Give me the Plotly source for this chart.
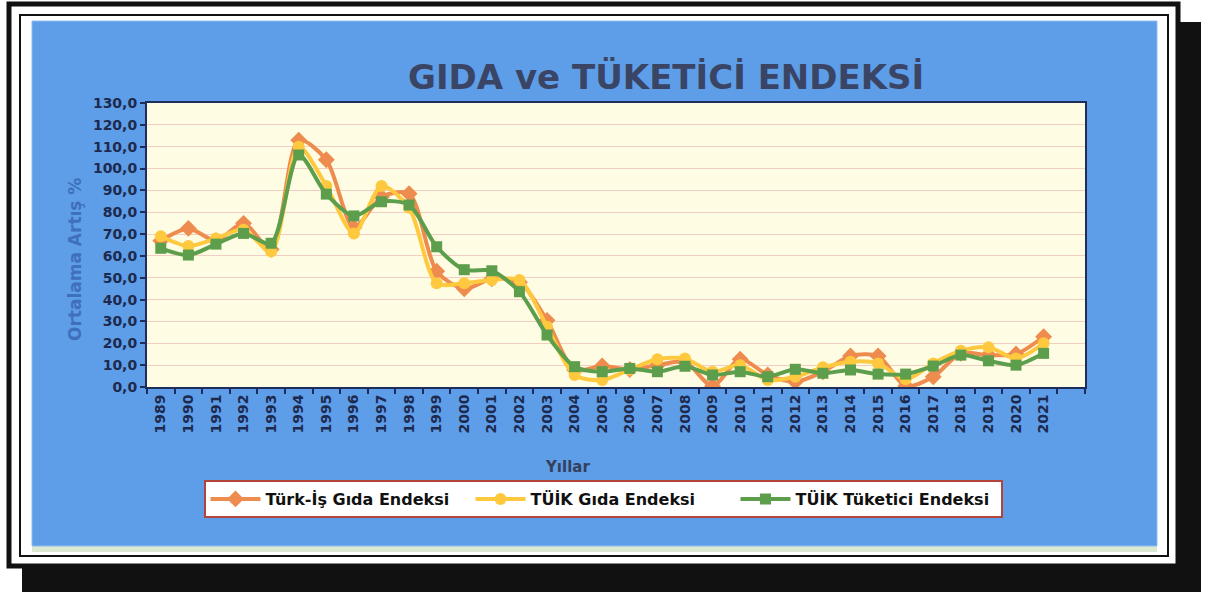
import plotly.graph_objects as go

# ---------------- data ----------------
years = [1989, 1990, 1991, 1992, 1993, 1994, 1995, 1996, 1997, 1998, 1999, 2000,
         2001, 2002, 2003, 2004, 2005, 2006, 2007, 2008, 2009, 2010, 2011, 2012,
         2013, 2014, 2015, 2016, 2017, 2018, 2019, 2020, 2021]
year_labels = [str(y) for y in years]

turkis_gida = [67.0, 72.6, 67.0, 74.9, 63.0, 113.0, 104.0, 73.0, 87.0, 88.5, 53.0, 45.0,
               49.5, 48.0, 30.5, 7.8, 9.6, 8.0, 10.0, 11.5, 0.5, 12.7, 5.5, 2.4,
               7.0, 14.2, 14.2, 0.5, 4.7, 15.4, 14.6, 15.1, 23.0]
tuik_gida = [69.0, 64.5, 68.0, 72.0, 62.0, 110.0, 92.0, 70.3, 92.0, 82.0, 47.5, 47.5,
             49.0, 49.0, 27.6, 5.5, 3.2, 8.0, 12.7, 13.0, 7.0, 10.0, 3.2, 4.7,
             9.0, 11.6, 10.8, 3.5, 10.8, 16.6, 18.2, 13.1, 20.0]
tuik_tuketici = [63.5, 60.4, 65.4, 70.3, 65.8, 106.2, 88.3, 78.3, 84.8, 83.3, 64.2, 53.7,
                 53.2, 43.6, 23.8, 9.3, 7.0, 8.5, 7.0, 9.5, 5.5, 7.0, 4.7, 8.1,
                 6.3, 7.8, 5.9, 5.9, 9.6, 14.6, 12.0, 10.0, 15.4]

series_names = ["Türk-İş Gıda Endeksi", "TÜİK Gıda Endeksi", "TÜİK Tüketici Endeksi"]
y_ticks = list(range(0, 131, 10))

# ---------------- geometry helpers (pixels -> paper) ----------------
W, H = 1211, 596
L, R, T, B = 147, 1085, 103, 387


def px(x):
    return (x - L) / (R - L)


def py(y):
    return (B - y) / (B - T)


FONT = "DejaVu Sans"
NAVY = "#1d2a4e"
AXIS = "#1d2e5c"

fig = go.Figure()

styles = [
    dict(color="#ee8b4e", symbol="diamond", size=13),
    dict(color="#ffc93f", symbol="circle", size=12),
    dict(color="#5c9e4c", symbol="square", size=11),
]
for name, vals, st in zip(series_names, [turkis_gida, tuik_gida, tuik_tuketici], styles):
    fig.add_trace(go.Scatter(
        x=years, y=vals, name=name, mode="lines+markers",
        line=dict(color=st["color"], width=4, shape="spline", smoothing=0.8),
        marker=dict(color=st["color"], symbol=st["symbol"], size=st["size"],
                    line=dict(width=0)),
    ))

shapes = []
# black drop shadow (right and bottom)
shapes.append(dict(type="rect", xref="paper", yref="paper",
                   x0=px(1178), x1=px(1201), y0=py(22), y1=py(592),
                   fillcolor="#111111", line=dict(width=0), layer="below"))
shapes.append(dict(type="rect", xref="paper", yref="paper",
                   x0=px(22), x1=px(1201), y0=py(566), y1=py(592),
                   fillcolor="#111111", line=dict(width=0), layer="below"))
# outer frame
shapes.append(dict(type="rect", xref="paper", yref="paper",
                   x0=px(9), x1=px(1178), y0=py(4), y1=py(566),
                   fillcolor="white", line=dict(color="#111111", width=5), layer="below"))
# inner frame
shapes.append(dict(type="rect", xref="paper", yref="paper",
                   x0=px(20), x1=px(1168), y0=py(15), y1=py(556),
                   fillcolor="white", line=dict(color="#111111", width=2), layer="below"))
# light green strip under panel
shapes.append(dict(type="rect", xref="paper", yref="paper",
                   x0=px(32), x1=px(1157), y0=py(540), y1=py(552),
                   fillcolor="#dce8d2", line=dict(width=0), layer="below"))
# blue chart panel
shapes.append(dict(type="rect", xref="paper", yref="paper",
                   x0=px(32), x1=px(1157), y0=py(21), y1=py(546),
                   fillcolor="#5e9de8", line=dict(color="#8fbdf2", width=1), layer="below"))
# cream plot area
shapes.append(dict(type="rect", xref="paper", yref="paper",
                   x0=0, x1=1, y0=0, y1=1,
                   fillcolor="#fffce4", line=dict(width=0), layer="below"))

annotations = [
    dict(text="GIDA ve TÜKETİCİ ENDEKSİ", xref="paper", yref="paper",
         x=px(666), y=py(77), xanchor="center", yanchor="middle", showarrow=False,
         font=dict(family=FONT, size=34, color="#3a4565", weight=700)),
    dict(text="Yıllar", xref="paper", yref="paper",
         x=px(567), y=py(467), xanchor="center", yanchor="middle", showarrow=False,
         font=dict(family=FONT, size=15, color="#34405c", weight=700)),
    dict(text="Ortalama Artış %", xref="paper", yref="paper",
         x=px(75), y=py(260), xanchor="center", yanchor="middle", showarrow=False,
         textangle=-90,
         font=dict(family=FONT, size=17, color="#3e70bd", weight=700)),
]

fig.update_layout(
    width=W, height=H,
    margin=dict(l=L, r=W - R, t=T, b=H - B, pad=0),
    paper_bgcolor="white",
    plot_bgcolor="rgba(0,0,0,0)",
    separators=",.",
    shapes=shapes,
    annotations=annotations,
    showlegend=True,
    legend=dict(
        orientation="h", x=px(603), y=py(480), xanchor="center", yanchor="top",
        bgcolor="white", bordercolor="#b2443a", borderwidth=2,
        font=dict(family=FONT, size=16, color="#111111", weight=700),
        itemwidth=50, traceorder="normal",
        entrywidthmode="pixels", entrywidth=200,
    ),
)

fig.update_xaxes(
    range=[1988.5, 2022.5],
    tickmode="array", tickvals=years, ticktext=year_labels,
    tickangle=-90, ticks="",
    tickfont=dict(family=FONT, size=14, color=NAVY, weight=700),
    showgrid=False, zeroline=False,
    showline=True, linecolor=AXIS, linewidth=2, mirror=True,
    minor=dict(tickmode="array", tickvals=[1988.5 + k for k in range(35)],
               ticks="outside", ticklen=5, tickwidth=1.5, tickcolor=AXIS, showgrid=False),
)
fig.update_yaxes(
    range=[0, 130],
    tickmode="array", tickvals=y_ticks, tickformat=".1f",
    ticks="outside", ticklen=5, tickwidth=1.5, tickcolor=AXIS,
    tickfont=dict(family=FONT, size=14, color=NAVY, weight=700),
    showgrid=True, gridcolor="#f1cdc2", gridwidth=1,
    zeroline=False,
    showline=True, linecolor=AXIS, linewidth=2, mirror=True,
)

fig.write_html("out.html", config={"displayModeBar": False},
               post_script="document.body.style.margin='0';")
